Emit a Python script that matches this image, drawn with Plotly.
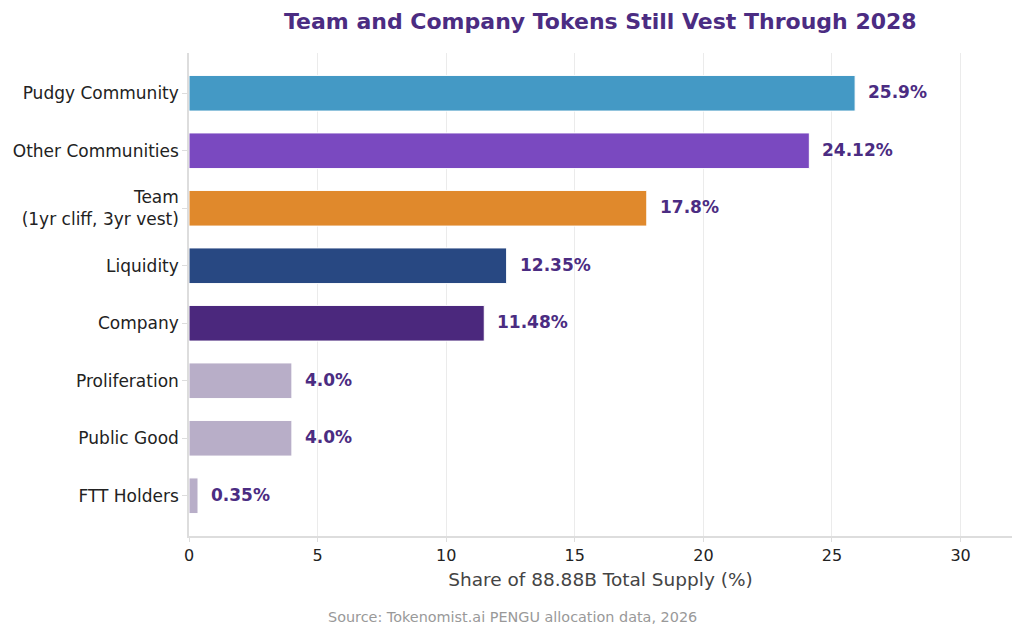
import plotly.graph_objects as go

# Dados de alocação (ordem de cima para baixo)
categorias = ["Pudgy Community", "Other Communities", "Team<br>(1yr cliff, 3yr vest)",
              "Liquidity", "Company", "Proliferation", "Public Good", "FTT Holders"]
valores = [25.9, 24.12, 17.8, 12.35, 11.48, 4.0, 4.0, 0.35]
rotulos = ["25.9%", "24.12%", "17.8%", "12.35%", "11.48%", "4.0%", "4.0%", "0.35%"]
cores = ["#4499C5", "#7A49C0", "#E0892C", "#284882", "#4B287D", "#B8AEC8", "#B8AEC8", "#B8AEC8"]

roxo = "#4B2C82"
fonte = "DejaVu Sans"

fig = go.Figure()
fig.add_trace(go.Bar(
    x=valores, y=categorias, orientation="h",
    marker=dict(color=cores, line=dict(color="white", width=1)),
    width=0.62, hoverinfo="skip",
))

# Rótulos de valor ao lado das barras
for v, c, r in zip(valores, categorias, rotulos):
    fig.add_annotation(x=v, y=c, text="<b>" + r + "</b>", showarrow=False,
                       xanchor="left", xshift=11, yshift=1,
                       font=dict(family=fonte, size=17, color=roxo))

fig.add_annotation(x=0.3925, y=-0.147, xref="paper", yref="paper", showarrow=False,
                   text="Source: Tokenomist.ai PENGU allocation data, 2026",
                   yanchor="top", font=dict(family=fonte, size=14.4, color="#999999"))

# a página tem margem de 8px no body, por isso 1016x628
fig.update_layout(
    width=1016, height=628,
    paper_bgcolor="white", plot_bgcolor="white",
    margin=dict(l=181, r=12, t=45, b=100),
    showlegend=False,
    font=dict(family=fonte, size=17, color="#222222"),
    title=dict(text="<b>Team and Company Tokens Still Vest Through 2028</b>",
               x=0.583, xanchor="center", y=0.979, yanchor="middle",
               font=dict(family=fonte, size=22, color=roxo)),
)
fig.update_xaxes(range=[0, 32], tickvals=[0, 5, 10, 15, 20, 25, 30],
                 automargin=False,
                 showgrid=True, gridcolor="#EBEBEB", gridwidth=1,
                 zeroline=False, showline=True, linecolor="#DDDDDD", linewidth=1.5,
                 ticks="outside", ticklen=4, tickcolor="#DDDDDD",
                 tickfont=dict(size=16, color="#222222"),
                 title=dict(text="Share of 88.88B Total Supply (%)",
                            font=dict(size=18.5, color="#444444"), standoff=9))
fig.update_yaxes(autorange=False, range=[7.7, -0.7], showgrid=False,
                 automargin=False,
                 showline=True, linecolor="#DDDDDD", linewidth=1.5,
                 ticks="outside", ticklen=5, tickcolor="#DDDDDD",
                 tickfont=dict(size=17, color="#222222"))

fig.write_html("out.html")
